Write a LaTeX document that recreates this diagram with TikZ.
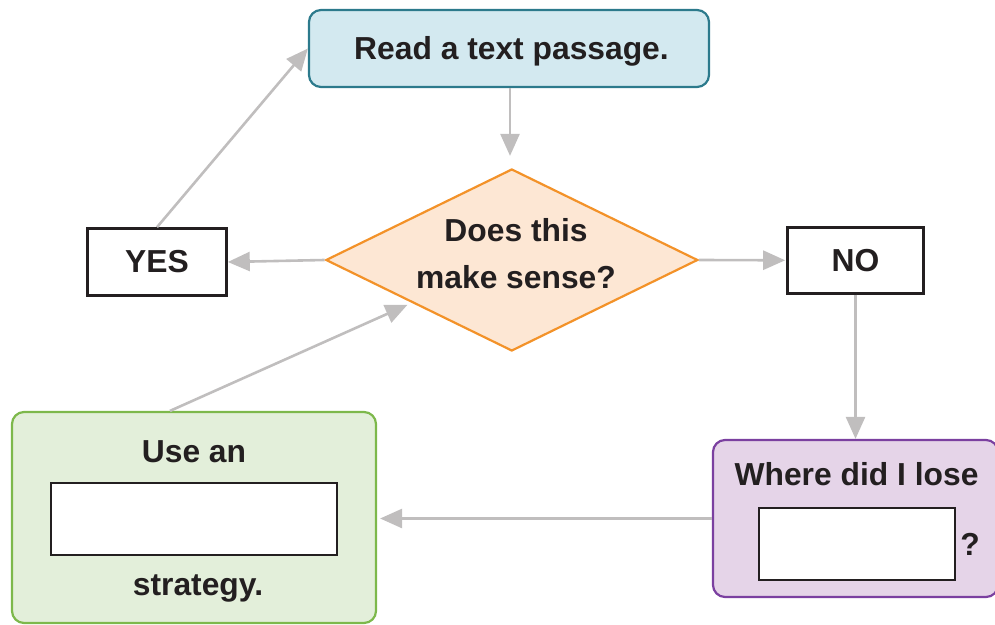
\documentclass[tikz,border=0pt]{standalone}
\usepackage{fontspec}
\setmainfont{Liberation Sans}
\usetikzlibrary{arrows.meta,shapes.geometric,positioning}
\definecolor{ink}{HTML}{231F20}
\definecolor{flowgray}{HTML}{C0BEBE}
\definecolor{readfill}{HTML}{D3E9F0}
\definecolor{readline}{HTML}{2C7A8C}
\definecolor{sensefill}{HTML}{FDE7D4}
\definecolor{senseline}{HTML}{F39229}
\definecolor{usefill}{HTML}{E3EFDA}
\definecolor{useline}{HTML}{7DB84B}
\definecolor{losefill}{HTML}{E5D4E8}
\definecolor{loseline}{HTML}{7B40A0}

\begin{document}
\begin{tikzpicture}[x=0.5pt,y=-0.5pt,
    every node/.style={font=\fontsize{15.9}{23.5}\selectfont\bfseries,text=ink},
    card/.style={rounded corners=6pt,line width=1.1pt,inner sep=0pt},
    answer/.style={draw=ink,line width=1.3pt,fill=white,inner sep=0pt},
    flow/.style={draw=flowgray,line width=1.3pt,-{Triangle[length=11pt,width=9.5pt]}}]
    \useasboundingbox (0,0) rectangle (995,625);
    % boxes
    \node[card,draw=readline,fill=readfill,minimum width=200pt,minimum height=38.5pt] (read) at (509,48.5) {};
    \node[anchor=base] (readtext) at (511.5,60) {Read a text passage.};
    \node[diamond,draw=senseline,fill=sensefill,line width=1.1pt,inner sep=0pt,
        minimum width=186pt,minimum height=91pt] (sense) at (511.8,260) {};
    \node[anchor=base,align=center] (sensetext) at (516,288.5) {Does this\\make sense?};
    \node[answer,minimum width=69.5pt,minimum height=33.5pt] (yes) at (157,262) {YES};
    \node[answer,minimum width=68pt,minimum height=33pt] (no) at (855.5,260.3) {NO};
    \node[card,draw=useline,fill=usefill,minimum width=182pt,minimum height=105.5pt] (use) at (194,517.5) {};
    \node[anchor=base] (usetop) at (194,462) {Use an};
    \node[answer,minimum width=143pt,minimum height=36pt] (useblank) at (194,519) {};
    \node[anchor=base] (usebottom) at (198,595) {strategy.};
    \node[card,draw=loseline,fill=losefill,minimum width=142.5pt,minimum height=78.5pt] (lose) at (855.5,518.5) {};
    \node[anchor=base] (losetop) at (856.5,485) {Where did I lose};
    \node[answer,minimum width=98pt,minimum height=36pt] (loseblank) at (857,544) {};
    \node[anchor=base] (losemark) at (970,555) {?};
    % connectors
    \draw[flow,shorten >=6pt] ([xshift=0.5pt]read.south) -- ([xshift=0.5pt]read.south |- sense.north);
    \draw[flow] (sense.west) -- (yes.east);
    \draw[flow,shorten >=0.5pt] (sense.east) -- (no.west);
    \draw[flow] (yes.north) -- (read.west);
    \draw[flow] (no.south) -- (lose.north);
    \draw[flow,shorten >=1.5pt] (lose.west) -- (lose.west -| use.east);
    \draw[flow,shorten >=1pt] ([xshift=-12pt]use.north) -- ([shift={(-4.5pt,1pt)}]sense.south west);
\end{tikzpicture}
\end{document}
